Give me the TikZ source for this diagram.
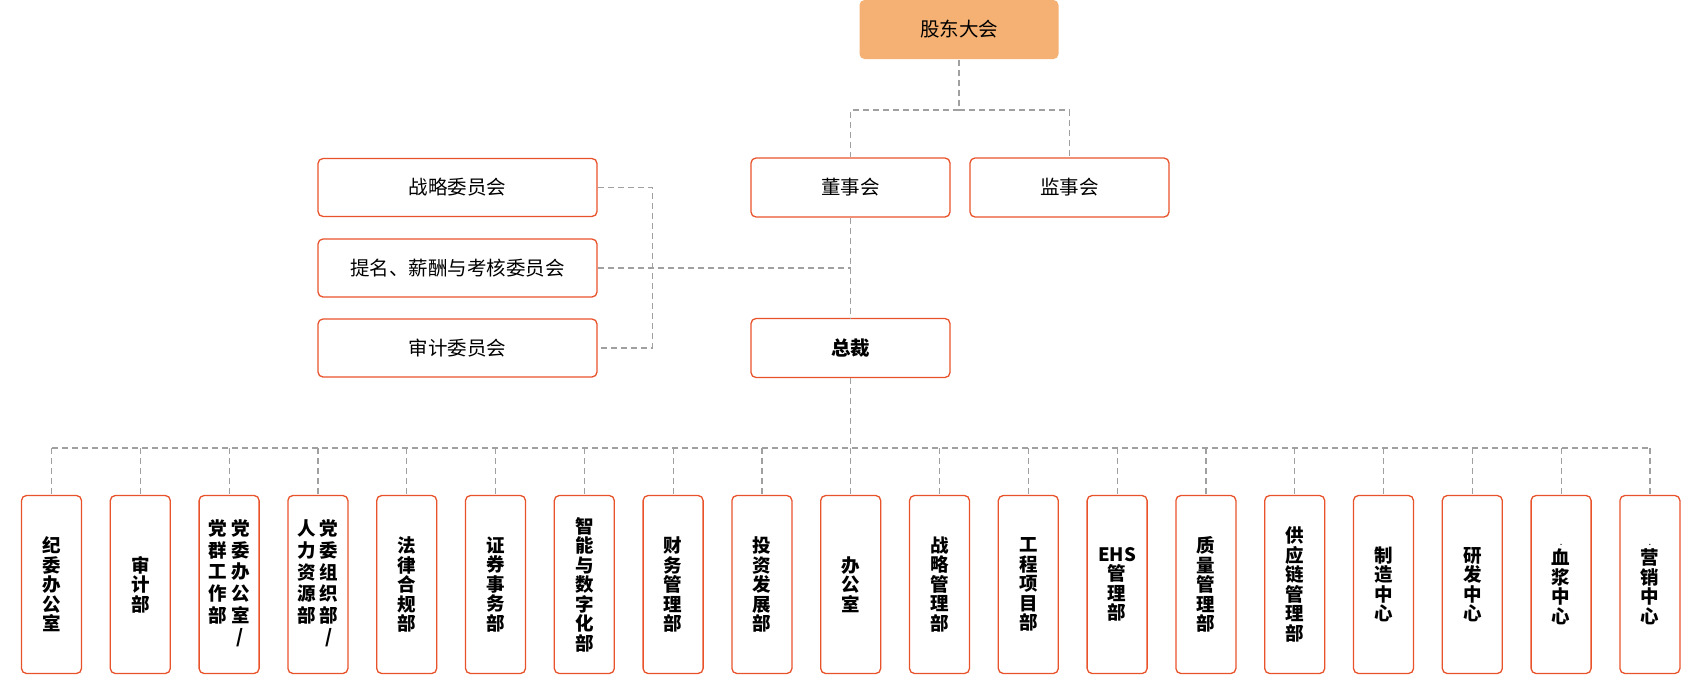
\documentclass[tikz,border=0pt]{standalone}
\usepackage{fontspec}
\setmainfont{Noto Sans CJK SC}
\usetikzlibrary{calc,positioning}

\definecolor{orgred}{HTML}{E8532B}
\definecolor{orgfill}{HTML}{F4B173}
\definecolor{linkgray}{HTML}{A0A0A0}

\begin{document}
\begin{tikzpicture}[x=1pt,y=-1pt]

\tikzstyle{orgbox} = [rectangle,draw=orgred,line width=1.3pt,rounded corners=5pt,fill=white,minimum width=199pt,minimum height=59pt,inner sep=0,font=\fontsize{19.5}{21}\selectfont,text=black]%
\tikzstyle{topbox} = [orgbox, draw=none, fill=orgfill]%
\tikzstyle{cmtbox} = [orgbox, minimum width=279pt, minimum height=58pt]%
\tikzstyle{deptbox} = [orgbox, minimum width=60pt, minimum height=178pt, align=center, font=\fontsize{18.5}{19.5}\selectfont\bfseries]%
\tikzstyle{link} = [draw=linkgray, line width=1.2pt, dash pattern=on 6pt off 4pt]%

\useasboundingbox (0,0) rectangle (1700,675);

\node[topbox] (gd) at (959, 29.5) {股东大会};
\node[orgbox] (dsh) at (850.5, 187.5) {董事会};
\node[orgbox] (jsh) at (1069.5, 187.5) {监事会};
\node[orgbox, font=\fontsize{19.5}{21}\selectfont\bfseries] (zc) at (850.5, 348) {总裁};

\node[cmtbox] (zl) at (457.5, 187.5) {战略委员会};
\node[cmtbox] (tm) at (457.5, 268) {提名、薪酬与考核委员会};
\node[cmtbox] (sj) at (457.5, 348) {审计委员会};

\node[deptbox] (d1) at (51.5, 584.5) {纪\\委\\办\\公\\室};
\node[deptbox] (d2) at (140.3, 584.5) {审\\计\\部};
\node[deptbox] (d3) at (229.1, 584.5) {\begin{tabular}{@{}c@{\hspace{4pt}}c@{}}党&党\\群&委\\工&办\\作&公\\部&室\\&/\end{tabular}};
\node[deptbox] (d4) at (317.9, 584.5) {\begin{tabular}{@{}c@{\hspace{4pt}}c@{}}人&党\\力&委\\资&组\\源&织\\部&部\\&/\end{tabular}};
\node[deptbox] (d5) at (406.7, 584.5) {法\\律\\合\\规\\部};
\node[deptbox] (d6) at (495.5, 584.5) {证\\券\\事\\务\\部};
\node[deptbox] (d7) at (584.3, 584.5) {智\\能\\与\\数\\字\\化\\部};
\node[deptbox] (d8) at (673.1, 584.5) {财\\务\\管\\理\\部};
\node[deptbox] (d9) at (761.9, 584.5) {投\\资\\发\\展\\部};
\node[deptbox] (d10) at (850.7, 584.5) {办\\公\\室};
\node[deptbox] (d11) at (939.5, 584.5) {战\\略\\管\\理\\部};
\node[deptbox] (d12) at (1028.3, 584.5) {工\\程\\项\\目\\部};
\node[deptbox] (d13) at (1117.1, 584.5) {EHS\\管\\理\\部};
\node[deptbox] (d14) at (1205.9, 584.5) {质\\量\\管\\理\\部};
\node[deptbox] (d15) at (1294.7, 584.5) {供\\应\\链\\管\\理\\部};
\node[deptbox] (d16) at (1383.5, 584.5) {制\\造\\中\\心};
\node[deptbox] (d17) at (1472.3, 584.5) {研\\发\\中\\心};
\node[deptbox] (d18) at (1561.1, 584.5) {{\fontsize{6}{6}\selectfont .}\\血\\浆\\中\\心};
\node[deptbox] (d19) at (1649.9, 584.5) {{\fontsize{6}{6}\selectfont .}\\营\\销\\中\\心};

% shareholders -> boards
\coordinate (gsplit) at (959, 110);
\draw[link] (gd.south) -- (gsplit);
\draw[link] (gsplit) -| (dsh.north);
\draw[link] (gsplit) -| (jsh.north);

\draw[link] (dsh.south) -- (zc.north);

% committees
\draw[link] (zl.east) -- ++(54.5, 0) |- (sj.east);
\draw[link] (tm.east) -- (tm.east -| dsh.south);

% departments
\coordinate (bus) at (850.5, 448);
\draw[link] (zc.south) -- (bus);
\draw[link] (d1.north |- bus) -- (d19.north |- bus);
\foreach \i in {1,...,19}
    \draw[link] (d\i.north |- bus) -- (d\i.north);

\end{tikzpicture}
\end{document}
